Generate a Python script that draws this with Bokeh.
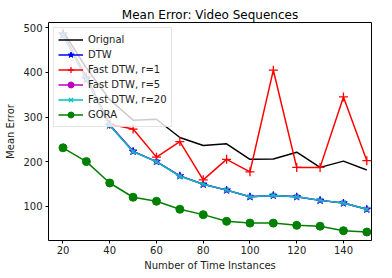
from bokeh.plotting import figure
from bokeh.models import Range1d, FixedTicker, Legend
from bokeh.embed import file_html
from bokeh.resources import INLINE

x = [20, 30, 40, 50, 60, 70, 80, 90, 100, 110, 120, 130, 140, 150]
orignal = [492, 410, 339, 293, 295, 254, 236, 240, 205, 206, 221, 187, 201, 181]
dtw = [485, 385, 282, 223, 200, 168, 149, 136, 121, 124, 121, 113, 107, 93]
fast_r1 = [488, 390, 284, 273, 210, 245, 159, 205, 177, 405, 187, 187, 345, 202]
fast_r5 = [485, 385, 282, 223, 200, 168, 149, 136, 121, 124, 121, 113, 107, 93]
fast_r20 = [485, 385, 281, 222, 200, 167, 149, 136, 121, 124, 121, 113, 107, 93]
gora = [231, 200, 152, 120, 111, 93, 81, 66, 62, 62, 57, 55, 45, 42]

x_ticks = [20, 40, 60, 80, 100, 120, 140]
y_ticks = [100, 200, 300, 400, 500]

FONT = "DejaVu Sans"
X0, X1, Y0, Y1 = 13.8, 152, 23, 512
W, H = 392, 278
BL, BR, BT, BB = 48, 21, 22, 38

p = figure(width=W, height=H, output_backend="svg", toolbar_location=None,
           x_range=Range1d(X0, X1), y_range=Range1d(Y0, Y1),
           title="Mean Error: Video Sequences",
           min_border_left=BL, min_border_right=BR, min_border_top=BT, min_border_bottom=BB)
p.title.text_font = FONT
p.title.text_font_size = "12px"
p.title.text_font_style = "normal"
p.title.text_color = "black"
p.title.align = "center"
p.title.vertical_align = "middle"
p.title.standoff = 0
p.background_fill_color = "white"
p.border_fill_color = "white"
p.outline_line_color = "black"
p.outline_line_width = 1
p.xgrid.visible = False
p.ygrid.visible = False

for ax, ticks in ((p.xaxis, x_ticks), (p.yaxis, y_ticks)):
    ax.ticker = FixedTicker(ticks=ticks)
    ax.minor_tick_line_color = None
    ax.major_tick_in = 0
    ax.major_tick_out = 3
    ax.major_label_text_font = FONT
    ax.major_label_text_font_size = "10px"
    ax.major_label_text_color = "#222222"
    ax.axis_label_text_font = FONT
    ax.axis_label_text_font_size = "10px"
    ax.axis_label_text_font_style = "normal"
    ax.axis_label_text_color = "#222222"
    ax.axis_line_color = None
    ax.major_label_standoff = 3

p.xaxis.major_label_standoff = 2
p.xaxis.axis_label_standoff = 3
p.yaxis.axis_label_standoff = 4
p.xaxis.axis_label = "Number of Time Instances"
p.yaxis.axis_label = "Mean Error"

items = []
r = p.line(x, orignal, color="black", line_width=1.5)
items.append(("Orignal", [r]))

r1 = p.line(x, dtw, color="blue", line_width=1.5)
r2 = p.scatter(x, dtw, marker="star", size=8, color="blue")
items.append(("DTW", [r1, r2]))

r1 = p.line(x, fast_r1, color="red", line_width=1.5)
r2 = p.scatter(x, fast_r1, marker="cross", size=9, color="red", line_width=1.3)
items.append(("Fast DTW, r=1", [r1, r2]))

r1 = p.line(x, fast_r5, color="#bf00bf", line_width=1.5)
r2 = p.scatter(x, fast_r5, marker="circle", size=4, color="#bf00bf")
items.append(("Fast DTW, r=5", [r1, r2]))

r1 = p.line(x, fast_r20, color="#00bfbf", line_width=1.5)
r2 = p.scatter(x, fast_r20, marker="x", size=7, color="#00bfbf", line_width=1.3)
items.append(("Fast DTW, r=20", [r1, r2]))

r1 = p.line(x, gora, color="green", line_width=1.5)
r2 = p.scatter(x, gora, marker="circle", size=8, color="green")
items.append(("GORA", [r1, r2]))

legend = Legend(items=items, location="top_left")
legend.margin = 5
legend.padding = 4
legend.spacing = 0
legend.label_height = 15
legend.glyph_height = 15
legend.glyph_width = 25
legend.label_standoff = 5
legend.label_text_font = FONT
legend.label_text_font_size = "10px"
legend.label_text_color = "#222222"
legend.border_line_color = "#cccccc"
legend.background_fill_alpha = 0.8
p.add_layout(legend)

open("out.html", "w").write(file_html(p, INLINE))
